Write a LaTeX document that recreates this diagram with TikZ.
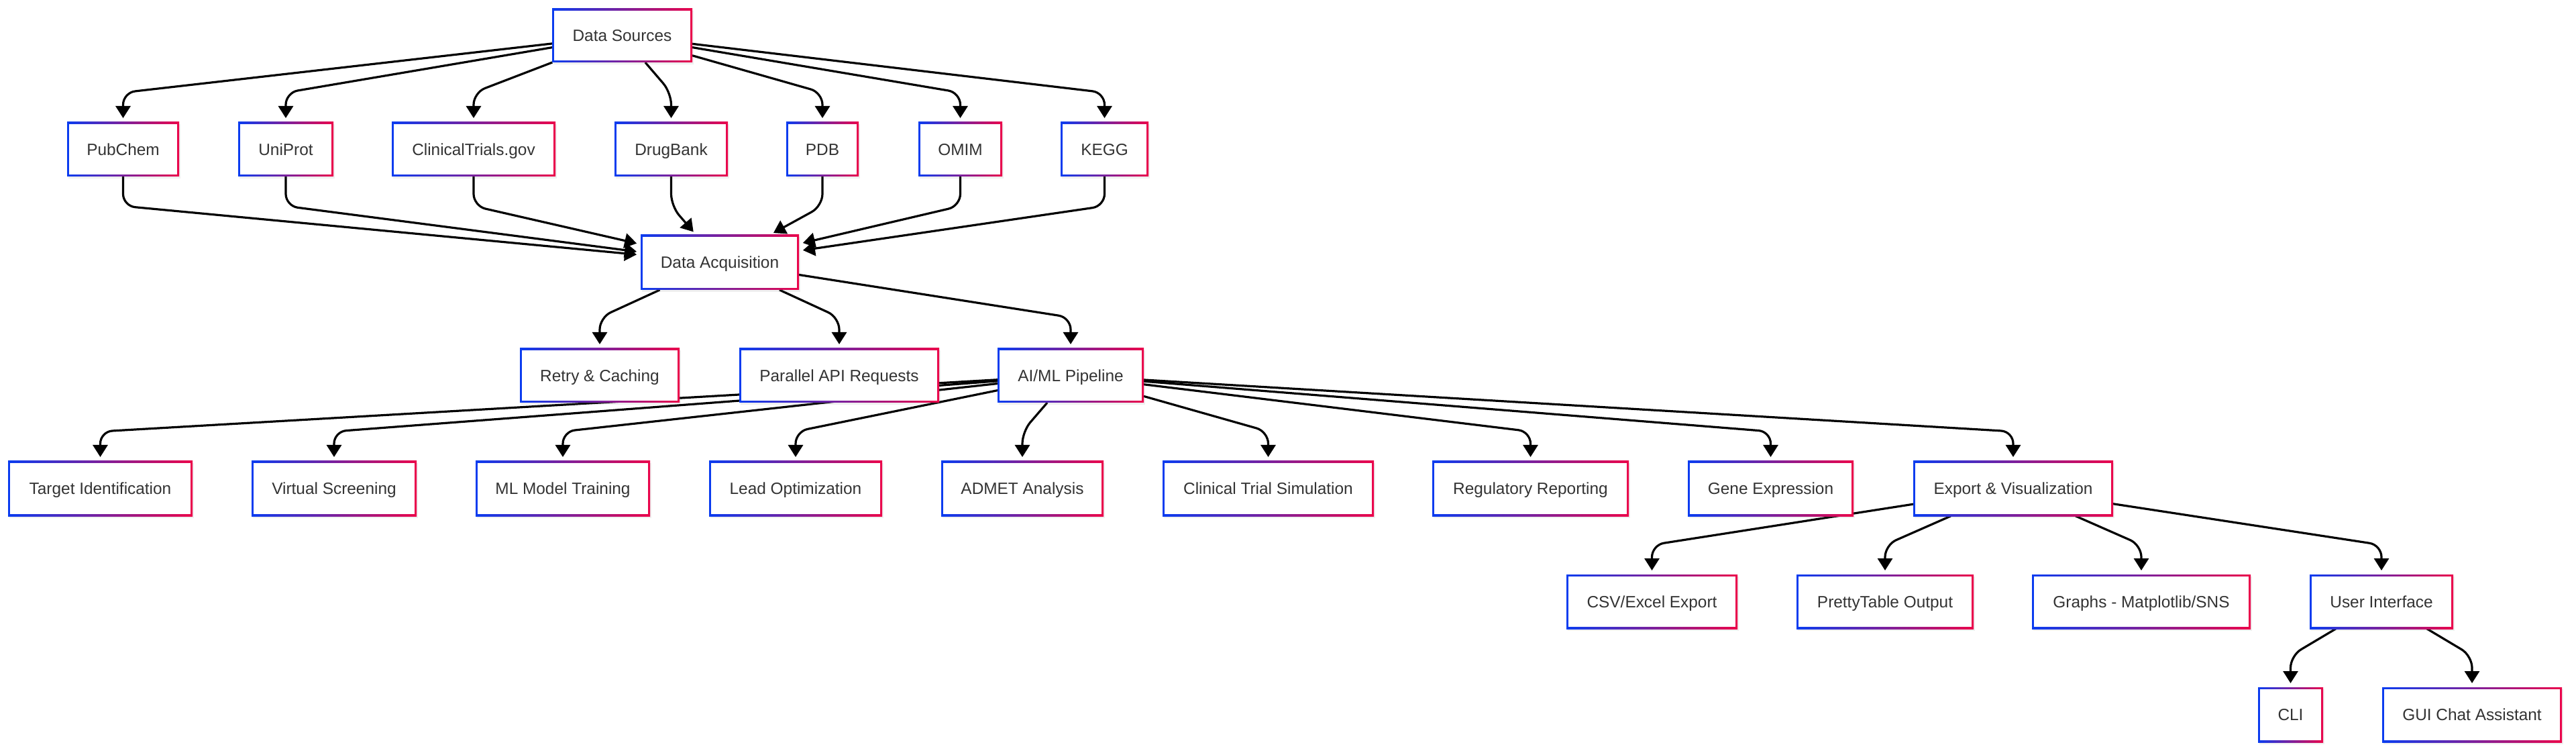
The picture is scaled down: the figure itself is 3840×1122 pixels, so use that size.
\documentclass[tikz,border=0pt]{standalone}
\usepackage{fontspec}
\setmainfont{Liberation Sans}
\usetikzlibrary{arrows.meta,backgrounds,shadows}
\definecolor{bl}{RGB}{10,60,240}
\definecolor{rd}{RGB}{235,5,75}
\definecolor{tx}{RGB}{51,51,51}
\tikzset{
  box/.style={draw=none, left color=bl, right color=rd, inner sep=0pt, outer sep=0pt,
    text=tx, font=\fontsize{12.2}{14}\selectfont, text height=8.8pt, text depth=0pt,
    drop shadow={opacity=0.12, shadow xshift=1pt, shadow yshift=-1.5pt},
    path picture={\fill[white] ([shift={(1.65pt,-1.65pt)}]path picture bounding box.north west)
      rectangle ([shift={(-1.65pt,1.65pt)}]path picture bounding box.south east);}},
  conn/.style={draw=black, line width=1.6pt, rounded corners=9pt,
    -{Triangle[width=11pt,length=9pt]}, shorten >=3pt}
}
\newcommand\dnode[6]{\node[box, minimum width={(#3-#2)*0.5pt}, minimum height={(#5-#4)*0.5pt}] (#1) at ({(#2+#3)/2},{(#4+#5)/2}) {#6};}
\newcommand\dedge[3]{\draw[conn] (#1) -- ([yshift=#3]#2.north) -- (#2.north);}
\newcommand\uedge[2]{\draw[conn] (#1.south) -- ([yshift=-22pt]#1.south) -- (#2);}
\begin{document}
\begin{tikzpicture}[x=0.5pt, y=-0.5pt]
\useasboundingbox (0,0) rectangle (3840,1122);
\dnode{ds}{823}{1032}{13}{93}{Data Sources}
\dnode{pub}{100}{267}{182}{263}{PubChem}
\dnode{uni}{355}{497}{182}{263}{UniProt}
\dnode{ct}{584}{828}{182}{263}{ClinicalTrials.gov}
\dnode{db}{916}{1085}{182}{263}{DrugBank}
\dnode{pdb}{1172}{1280}{182}{263}{PDB}
\dnode{omim}{1369}{1494}{182}{263}{OMIM}
\dnode{kegg}{1581}{1712}{182}{263}{KEGG}
\dnode{da}{955}{1191}{350}{432}{Data Acquisition}
\dnode{retry}{775}{1013}{519}{600}{Retry \& Caching}
\dnode{par}{1102}{1400}{519}{600}{Parallel API Requests}
\dnode{ai}{1487}{1705}{519}{600}{AI/ML Pipeline}
\dnode{tid}{12}{287}{687}{769}{Target Identification}
\dnode{vs}{375}{621}{687}{769}{Virtual Screening}
\dnode{ml}{709}{969}{687}{769}{ML Model Training}
\dnode{lo}{1057}{1315}{687}{769}{Lead Optimization}
\dnode{admet}{1403}{1645}{687}{769}{ADMET Analysis}
\dnode{cts}{1733}{2048}{687}{769}{Clinical Trial Simulation}
\dnode{reg}{2135}{2428}{687}{769}{Regulatory Reporting}
\dnode{gene}{2516}{2763}{687}{769}{Gene Expression}
\dnode{exp}{2852}{3150}{687}{769}{Export \& Visualization}
\dnode{csv}{2335}{2590}{856}{937}{CSV/Excel Export}
\dnode{pt}{2678}{2942}{856}{937}{PrettyTable Output}
\dnode{gr}{3029}{3355}{856}{937}{Graphs - Matplotlib/SNS}
\dnode{ui}{3443}{3657}{856}{937}{User Interface}
\dnode{cli}{3366}{3463}{1024}{1106}{CLI}
\dnode{gui}{3551}{3819}{1024}{1106}{GUI Chat Assistant}
\begin{pgfonlayer}{background}
\fill[white] (0,0) rectangle (3840,1122);
\foreach \t in {pub,uni,ct,db,pdb,omim,kegg}{\dedge{ds}{\t}{22pt}}
\foreach \s in {pub,uni,ct,db,pdb,omim,kegg}{\uedge{\s}{da}}
\foreach \t in {retry,par,ai}{\dedge{da}{\t}{23pt}}
\foreach \t in {tid,vs,ml,lo,admet,cts,reg,gene,exp}{\dedge{ai}{\t}{22pt}}
\foreach \t in {csv,pt,gr,ui}{\dedge{exp}{\t}{22pt}}
\foreach \t in {cli,gui}{\dedge{ui}{\t}{23.5pt}}
\end{pgfonlayer}
\end{tikzpicture}
\end{document}
